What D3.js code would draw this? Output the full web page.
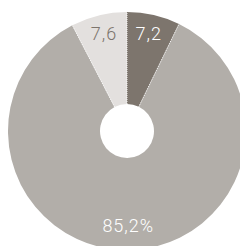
<!DOCTYPE html>
<html><head><meta charset="utf-8">
<script src="https://cdn.jsdelivr.net/npm/d3@7"></script>
<style>html,body{margin:0;padding:0;background:#fff;overflow:hidden}</style>
</head><body>
<svg id="c" width="240" height="246"></svg>
<script>
const categories = ["A", "B", "C"];
const values = [7.2, 85.2, 7.6];
const labels = ["7,2", "85,2%", "7,6"];
const colors = ["#7d756d", "#b2aea9", "#e3e0de"];
const labelColors = ["#ffffff", "#ffffff", "#7d756d"];

const svg = d3.select("#c");
const cx = 127, cy = 131, rOuter = 119, rInner = 27;
const g = svg.append("g").attr("transform", `translate(${cx},${cy})`);
const pie = d3.pie().sort(null).value(d => d)(values);
const arc = d3.arc().innerRadius(rInner).outerRadius(rOuter);
g.selectAll("path.s").data(pie).join("path").attr("class","s")
  .attr("d", arc).attr("fill", (d,i) => colors[i]);
// dotted separators
g.selectAll("line.sep").data(pie).join("line").attr("class","sep")
  .attr("x1", d => rInner*Math.sin(d.startAngle)).attr("y1", d => -rInner*Math.cos(d.startAngle))
  .attr("x2", d => rOuter*Math.sin(d.startAngle)).attr("y2", d => -rOuter*Math.cos(d.startAngle))
  .attr("stroke", "#ffffff").attr("stroke-width", 1).attr("stroke-dasharray", "1,1").attr("opacity", 0.9);
const lab = d3.arc().innerRadius(97).outerRadius(97);
g.selectAll("text").data(pie).join("text")
  .attr("x", d => lab.centroid(d)[0]).attr("y", d => lab.centroid(d)[1])
  .attr("text-anchor", "middle").attr("dy", "0.2em")
  .attr("font-family", "Roboto, sans-serif").attr("font-weight", 300)
  .attr("font-size", 18).attr("letter-spacing", 1)
  .attr("fill", (d,i) => labelColors[i])
  .text((d,i) => labels[i]);
</script>
</body></html>
